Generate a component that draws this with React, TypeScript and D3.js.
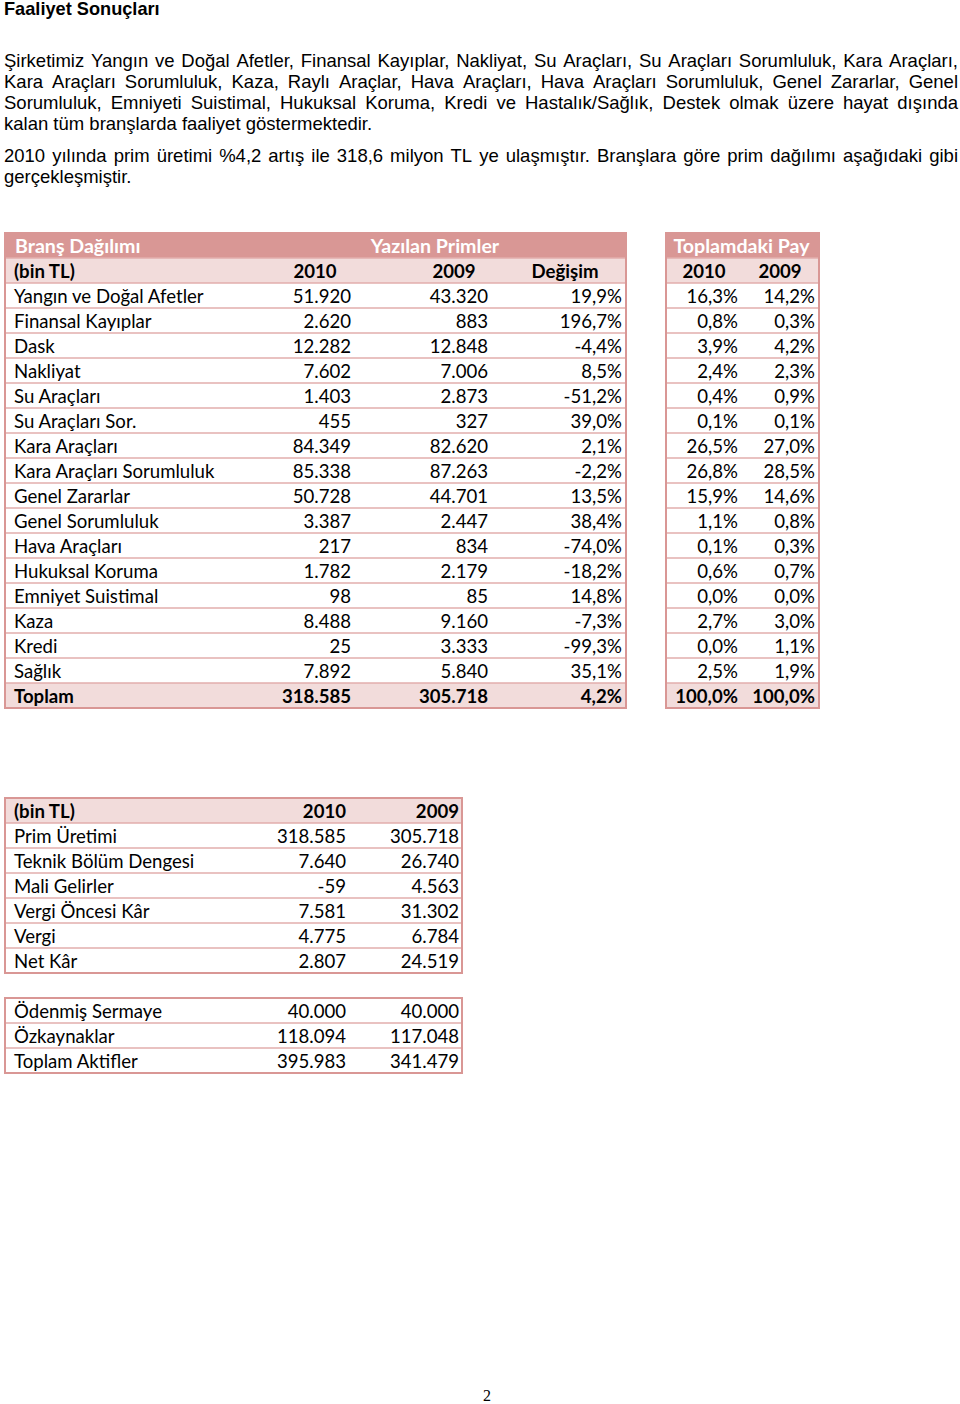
import React from "react";
import * as d3 from "d3";

// ---------- Data ----------
const titleText = "Faaliyet Sonuçları";
const para1Lines = [
  "Şirketimiz Yangın ve Doğal Afetler, Finansal Kayıplar, Nakliyat, Su Araçları, Su Araçları Sorumluluk, Kara Araçları,",
  "Kara Araçları Sorumluluk, Kaza, Raylı Araçlar, Hava Araçları, Hava Araçları Sorumluluk, Genel Zararlar, Genel",
  "Sorumluluk, Emniyeti Suistimal, Hukuksal Koruma, Kredi ve Hastalık/Sağlık, Destek olmak üzere hayat dışında",
  "kalan tüm branşlarda faaliyet göstermektedir.",
];
const para2Lines = [
  "2010 yılında prim üretimi %4,2 artış ile 318,6 milyon TL ye ulaşmıştır. Branşlara göre prim dağılımı aşağıdaki gibi",
  "gerçekleşmiştir.",
];

const branches = [
  "Yangın ve Doğal Afetler", "Finansal Kayıplar", "Dask", "Nakliyat", "Su Araçları", "Su Araçları Sor.",
  "Kara Araçları", "Kara Araçları Sorumluluk", "Genel Zararlar", "Genel Sorumluluk", "Hava Araçları",
  "Hukuksal Koruma", "Emniyet Suistimal", "Kaza", "Kredi", "Sağlık",
];
const premium2010 = [51920, 2620, 12282, 7602, 1403, 455, 84349, 85338, 50728, 3387, 217, 1782, 98, 8488, 25, 7892];
const premium2009 = [43320, 883, 12848, 7006, 2873, 327, 82620, 87263, 44701, 2447, 834, 2179, 85, 9160, 3333, 5840];
const changePct = [19.9, 196.7, -4.4, 8.5, -51.2, 39.0, 2.1, -2.2, 13.5, 38.4, -74.0, -18.2, 14.8, -7.3, -99.3, 35.1];
const share2010 = [16.3, 0.8, 3.9, 2.4, 0.4, 0.1, 26.5, 26.8, 15.9, 1.1, 0.1, 0.6, 0.0, 2.7, 0.0, 2.5];
const share2009 = [14.2, 0.3, 4.2, 2.3, 0.9, 0.1, 27.0, 28.5, 14.6, 0.8, 0.3, 0.7, 0.0, 3.0, 1.1, 1.9];
const totalLabel = "Toplam";
const total2010 = 318585;
const total2009 = 305718;
const totalChange = 4.2;
const totalShare2010 = 100.0;
const totalShare2009 = 100.0;

const mainHeaders = ["Branş Dağılımı", "Yazılan Primler", "Toplamdaki Pay"];
const subHeaders = ["(bin TL)", "2010", "2009", "Değişim", "2010", "2009"];

const resultItems = ["Prim Üretimi", "Teknik Bölüm Dengesi", "Mali Gelirler", "Vergi Öncesi Kâr", "Vergi", "Net Kâr"];
const result2010 = [318585, 7640, -59, 7581, 4775, 2807];
const result2009 = [305718, 26740, 4563, 31302, 6784, 24519];
const resultHeaders = ["(bin TL)", "2010", "2009"];

const capitalItems = ["Ödenmiş Sermaye", "Özkaynaklar", "Toplam Aktifler"];
const capital2010 = [40000, 118094, 395983];
const capital2009 = [40000, 117048, 341479];

const pageNumber = "2";

// ---------- Formatting ----------
const trLocale = d3.formatLocale({ decimal: ",", thousands: ".", grouping: [3], currency: ["", " TL"], minus: "-" });
const fmtInt = trLocale.format(",d");
const fmtPct = (v: number) => trLocale.format(",.1f")(v) + "%";

// ---------- Styles ----------
const BODY_FONT = "'Liberation Sans', Arial, sans-serif";
const TABLE_FONT = "Lato, 'Open Sans', sans-serif";
const TFS = 18.6;
const HFS = 19.6;
const HEADER_BG = "#d99795";
const SUB_BG = "#f2dcdb";
const BORDER = "#d99795";
const SEP = "#e2aeac";

let measureCtx: CanvasRenderingContext2D | null = null;
function measure(text: string, font: string) {
  if (!measureCtx) {
    const c = document.createElement("canvas");
    measureCtx = c.getContext("2d");
  }
  measureCtx!.font = font;
  return measureCtx!.measureText(text).width;
}

function JustLine({ text, y, x0, x1, justify, size }: { text: string; y: number; x0: number; x1: number; justify: boolean; size: number }) {
  const font = `${size}px 'Liberation Sans'`;
  if (!justify) {
    return (
      <text x={x0} y={y} fontFamily={BODY_FONT} fontSize={size} fill="#000">
        {text}
      </text>
    );
  }
  const words = text.split(" ");
  const widths = words.map((w) => measure(w, font));
  const total = d3.sum(widths);
  const gap = (x1 - x0 - total) / (words.length - 1);
  let x = x0;
  const items = words.map((w, i) => {
    const el = (
      <text key={i} x={x} y={y} fontFamily={BODY_FONT} fontSize={size} fill="#000">
        {w}
      </text>
    );
    x += widths[i] + gap;
    return el;
  });
  return <g>{items}</g>;
}

export default function App() {
  const W = 960;
  const H = 1404;
  const bodySize = 18.5;

  const rowKeys = ["h1", "h2", ...branches, totalLabel];
  const yMain = d3.scaleBand<string>().domain(rowKeys).range([233, 233 + 25 * rowKeys.length]).paddingInner(0);
  const mainLeft = 5;
  const mainRight = 626;
  const payLeft = 666;
  const payRight = 819;
  const colRight = { p10: 351, p09: 488, ch: 622, s10: 738, s09: 815 };
  const colCenter = { p10: 315, p09: 454, ch: 565, s10: 704, s09: 780 };
  const baseOff = 19.5;

  const mainTop = yMain("h1")!;
  const mainBottom = yMain(totalLabel)! + yMain.bandwidth();

  const sepLines = (left: number, right: number, keys: string[], yS: d3.ScaleBand<string>, skipFirst = true) =>
    keys.slice(skipFirst ? 1 : 0).map((k) => (
      <line key={"s" + k + left} x1={left} x2={right} y1={yS(k)!} y2={yS(k)!} stroke={SEP} strokeWidth={1.6} />
    ));

  const resKeys = ["h", ...resultItems];
  const yRes = d3.scaleBand<string>().domain(resKeys).range([798, 798 + 25 * resKeys.length]);
  const capKeys = capitalItems;
  const yCap = d3.scaleBand<string>().domain(capKeys).range([998, 998 + 25 * capKeys.length]);
  const resLeft = 5;
  const resRight = 462;
  const resCol = { v10: 346, v09: 459 };

  const T = (props: any) => <text fontFamily={TABLE_FONT} fontSize={TFS} fill="#000" {...props} />;

  return (
    <svg width={W} height={H} viewBox={`0 0 ${W} ${H}`} style={{ position: "absolute", left: 0, top: 0, background: "#fff" }}>
      <rect x={0} y={0} width={W} height={H} fill="#fff" />
      <text x={4} y={15} fontFamily={BODY_FONT} fontWeight="bold" fontSize={18.2} fill="#000">
        {titleText}
      </text>
      {para1Lines.map((l, i) => (
        <JustLine key={"p1" + i} text={l} y={67 + i * 21} x0={4} x1={958} justify={i < para1Lines.length - 1} size={bodySize} />
      ))}
      {para2Lines.map((l, i) => (
        <JustLine key={"p2" + i} text={l} y={162 + i * 21} x0={4} x1={958} justify={i < para2Lines.length - 1} size={bodySize} />
      ))}

      {/* ===== Main table ===== */}
      <rect x={mainLeft} y={yMain("h1")!} width={mainRight - mainLeft} height={yMain.bandwidth()} fill={HEADER_BG} />
      <rect x={mainLeft} y={yMain("h2")!} width={mainRight - mainLeft} height={yMain.bandwidth()} fill={SUB_BG} />
      <rect x={mainLeft} y={yMain(totalLabel)!} width={mainRight - mainLeft} height={yMain.bandwidth()} fill={SUB_BG} />
      <rect x={payLeft} y={yMain("h1")!} width={payRight - payLeft} height={yMain.bandwidth()} fill={HEADER_BG} />
      <rect x={payLeft} y={yMain("h2")!} width={payRight - payLeft} height={yMain.bandwidth()} fill={SUB_BG} />
      <rect x={payLeft} y={yMain(totalLabel)!} width={payRight - payLeft} height={yMain.bandwidth()} fill={SUB_BG} />

      {sepLines(mainLeft, mainRight, rowKeys, yMain)}
      {sepLines(payLeft, payRight, rowKeys, yMain)}
      <rect x={mainLeft} y={mainTop} width={mainRight - mainLeft} height={mainBottom - mainTop} fill="none" stroke={BORDER} strokeWidth={2} />
      <rect x={payLeft} y={mainTop} width={payRight - payLeft} height={mainBottom - mainTop} fill="none" stroke={BORDER} strokeWidth={2} />

      <T x={15} y={yMain("h1")! + baseOff} fill="#fff" fontWeight="bold" fontSize={HFS}>{mainHeaders[0]}</T>
      <T x={435} y={yMain("h1")! + baseOff} fill="#fff" fontWeight="bold" fontSize={HFS} textAnchor="middle">{mainHeaders[1]}</T>
      <T x={(payLeft + payRight) / 2 - 1} y={yMain("h1")! + baseOff} fill="#fff" fontWeight="bold" fontSize={HFS} textAnchor="middle">{mainHeaders[2]}</T>
      <T x={14} y={yMain("h2")! + baseOff} fontWeight="bold">{subHeaders[0]}</T>
      <T x={colCenter.p10} y={yMain("h2")! + baseOff} fontWeight="bold" textAnchor="middle">{subHeaders[1]}</T>
      <T x={colCenter.p09} y={yMain("h2")! + baseOff} fontWeight="bold" textAnchor="middle">{subHeaders[2]}</T>
      <T x={colCenter.ch} y={yMain("h2")! + baseOff} fontWeight="bold" textAnchor="middle">{subHeaders[3]}</T>
      <T x={colCenter.s10} y={yMain("h2")! + baseOff} fontWeight="bold" textAnchor="middle">{subHeaders[4]}</T>
      <T x={colCenter.s09} y={yMain("h2")! + baseOff} fontWeight="bold" textAnchor="middle">{subHeaders[5]}</T>

      {branches.map((b, i) => {
        const y = yMain(b)! + baseOff;
        return (
          <g key={b}>
            <T x={14} y={y}>{b}</T>
            <T x={colRight.p10} y={y} textAnchor="end">{fmtInt(premium2010[i])}</T>
            <T x={colRight.p09} y={y} textAnchor="end">{fmtInt(premium2009[i])}</T>
            <T x={colRight.ch} y={y} textAnchor="end">{fmtPct(changePct[i])}</T>
            <T x={colRight.s10} y={y} textAnchor="end">{fmtPct(share2010[i])}</T>
            <T x={colRight.s09} y={y} textAnchor="end">{fmtPct(share2009[i])}</T>
          </g>
        );
      })}
      {(() => {
        const y = yMain(totalLabel)! + baseOff;
        return (
          <g>
            <T x={14} y={y} fontWeight="bold">{totalLabel}</T>
            <T x={colRight.p10} y={y} fontWeight="bold" textAnchor="end">{fmtInt(total2010)}</T>
            <T x={colRight.p09} y={y} fontWeight="bold" textAnchor="end">{fmtInt(total2009)}</T>
            <T x={colRight.ch} y={y} fontWeight="bold" textAnchor="end">{fmtPct(totalChange)}</T>
            <T x={colRight.s10} y={y} fontWeight="bold" textAnchor="end">{fmtPct(totalShare2010)}</T>
            <T x={colRight.s09} y={y} fontWeight="bold" textAnchor="end">{fmtPct(totalShare2009)}</T>
          </g>
        );
      })()}

      {/* ===== Results table ===== */}
      <rect x={resLeft} y={yRes("h")!} width={resRight - resLeft} height={yRes.bandwidth()} fill={SUB_BG} />
      {sepLines(resLeft, resRight, resKeys, yRes)}
      <rect x={resLeft} y={yRes("h")!} width={resRight - resLeft} height={yRes.bandwidth() * resKeys.length} fill="none" stroke={BORDER} strokeWidth={2} />
      <T x={14} y={yRes("h")! + baseOff} fontWeight="bold">{resultHeaders[0]}</T>
      <T x={resCol.v10} y={yRes("h")! + baseOff} fontWeight="bold" textAnchor="end">{resultHeaders[1]}</T>
      <T x={resCol.v09} y={yRes("h")! + baseOff} fontWeight="bold" textAnchor="end">{resultHeaders[2]}</T>
      {resultItems.map((r, i) => (
        <g key={r}>
          <T x={14} y={yRes(r)! + baseOff}>{r}</T>
          <T x={resCol.v10} y={yRes(r)! + baseOff} textAnchor="end">{fmtInt(result2010[i])}</T>
          <T x={resCol.v09} y={yRes(r)! + baseOff} textAnchor="end">{fmtInt(result2009[i])}</T>
        </g>
      ))}

      {/* ===== Capital table ===== */}
      {sepLines(resLeft, resRight, capKeys, yCap)}
      <rect x={resLeft} y={yCap(capKeys[0])!} width={resRight - resLeft} height={yCap.bandwidth() * capKeys.length} fill="none" stroke={BORDER} strokeWidth={2} />
      {capitalItems.map((r, i) => (
        <g key={r}>
          <T x={14} y={yCap(r)! + baseOff}>{r}</T>
          <T x={resCol.v10} y={yCap(r)! + baseOff} textAnchor="end">{fmtInt(capital2010[i])}</T>
          <T x={resCol.v09} y={yCap(r)! + baseOff} textAnchor="end">{fmtInt(capital2009[i])}</T>
        </g>
      ))}

      <text x={487} y={1401} fontFamily="'Liberation Serif', 'Times New Roman', serif" fontSize={16} textAnchor="middle" fill="#000">
        {pageNumber}
      </text>
    </svg>
  );
}
